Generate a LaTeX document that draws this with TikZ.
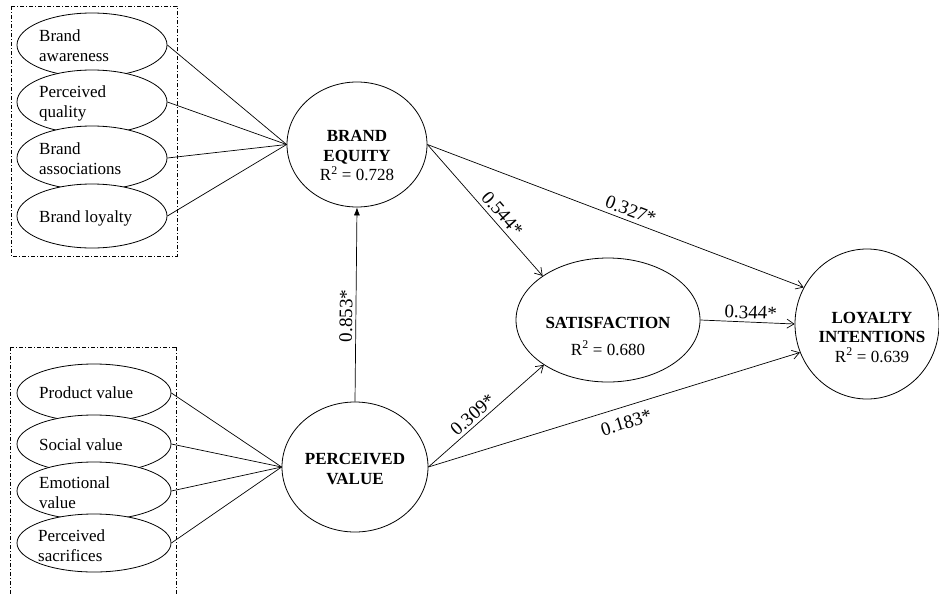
\documentclass[tikz,border=0pt]{standalone}
\usepackage{fontspec}
\setmainfont{Liberation Serif}
\usetikzlibrary{shapes.geometric,arrows.meta}
\begin{document}
\begin{tikzpicture}[x=1pt,y=-1pt,
  dimbox/.style={draw, line width=0.7pt, dash pattern=on 4pt off 2pt on 1pt off 2pt},
  ind/.style={ellipse, draw, fill=white, line width=0.8pt, inner sep=0pt},
  indtxt/.style={anchor=west, inner sep=0pt, align=left, font=\fontsize{17}{20}\selectfont},
  lat/.style={ellipse, draw, line width=0.8pt, inner sep=0pt},
  lattxt/.style={inner sep=0pt, align=center, font=\fontsize{17}{19.5}\selectfont},
  link/.style={line width=0.7pt},
  effect/.style={line width=0.7pt, -{Straight Barb[length=7pt,width=9pt]}},
  coef/.style={font=\fontsize{19}{21}\selectfont, sloped, inner sep=3pt},
]
\useasboundingbox (0,0) rectangle (939,595);

% dashed group boxes
\draw[dimbox] (11,6) rectangle (177,256);
\draw[dimbox] (10,347) -- (10,596) (176,347) -- (176,596) (10,347) -- (176,347);

% brand equity indicators
\node[ind, minimum width=150pt, minimum height=64pt] (ba) at (92,45) {};
\node[ind, minimum width=150pt, minimum height=64pt] (pq) at (92,102) {};
\node[ind, minimum width=150pt, minimum height=64pt] (bas) at (92,158) {};
\node[ind, minimum width=150pt, minimum height=64pt] (bl) at (92,216) {};
\node[indtxt] (bat) at (39,46) {Brand\\awareness};
\node[indtxt] (pqt) at (39,103) {Perceived\\quality};
\node[indtxt] (bast) at (39,159) {Brand\\associations};
\node[indtxt] (blt) at (39,218) {Brand loyalty};

% perceived value indicators
\node[ind, minimum width=154pt, minimum height=58pt] (pdv) at (94,393) {};
\node[ind, minimum width=154pt, minimum height=58pt] (sv) at (94,444) {};
\node[ind, minimum width=154pt, minimum height=58pt] (ev) at (94,491) {};
\node[ind, minimum width=154pt, minimum height=58pt] (ps) at (94,543) {};
\node[indtxt] (pdvt) at (39,393) {Product value};
\node[indtxt] (svt) at (39,445) {Social value};
\node[indtxt] (evt) at (39,493) {Emotional\\value};
\node[indtxt] (pst) at (38,546) {Perceived\\sacrifices};

% latent constructs
\node[lat, minimum width=140pt, minimum height=125pt] (be) at (357,144.5) {};
\node[lattxt] (bet) at (357,156) {\textbf{BRAND}\\\textbf{EQUITY}\\R\textsuperscript{2} = 0.728};
\node[lat, minimum width=146pt, minimum height=130pt] (pv) at (355,467) {};
\node[lattxt] (pvt) at (355,469) {\textbf{PERCEIVED}\\\textbf{VALUE}};
\node[lat, minimum width=184pt, minimum height=124pt] (sat) at (608,320) {};
\node[lattxt, font=\fontsize{17}{27}\selectfont] (satt) at (608,336) {\textbf{SATISFACTION}\\R\textsuperscript{2} = 0.680};
\node[lat, minimum width=144pt, minimum height=150pt] (loy) at (867,324) {};
\node[lattxt] (loyt) at (872,337) {\textbf{LOYALTY}\\\textbf{INTENTIONS}\\R\textsuperscript{2} = 0.639};

% indicator links
\foreach \i in {ba,pq,bas,bl} \draw[link] (\i.east) -- (be.west);
\foreach \i in {pdv,sv,ev,ps} \draw[link] (\i.east) -- (pv.west);

% structural paths
\draw[line width=0.7pt, -{Latex[length=8pt,width=6pt]}] (pv.north) -- node[coef, above, pos=0.44] (c1) {0.853*} (be.south);
\draw[effect] (be.east) -- node[coef, above, inner sep=4pt, pos=0.58] (c2) {0.544*} (sat.146);
\draw[effect] (be.east) -- node[coef, above, inner sep=4pt, pos=0.53] (c3) {0.327*} (loy.150);
\draw[effect] (sat.east) -- node[coef, above, pos=0.53] (c4) {0.344*} (loy.west);
\draw[effect] (pv.east) -- node[coef, above, pos=0.44] (c5) {0.309*} (sat.215);
\draw[effect] (pv.east) -- node[coef, below, inner sep=9pt, pos=0.52] (c6) {0.183*} (loy.203);
\end{tikzpicture}
\end{document}
